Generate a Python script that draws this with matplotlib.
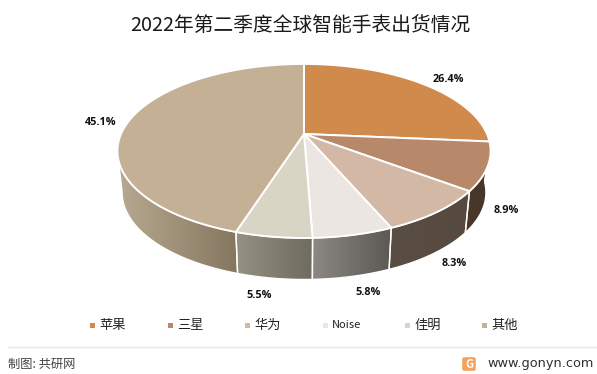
"""Perspective 3D pie of global smartwatch shipment share, Q2 2022."""

import matplotlib
matplotlib.use("Agg")
import matplotlib.pyplot as plt
import numpy as np
from matplotlib.colors import LinearSegmentedColormap
from matplotlib.patches import FancyBboxPatch, Polygon, Rectangle

plt.rcParams["font.family"] = ["Noto Sans CJK SC", "DejaVu Sans"]

TITLE = "2022年第二季度全球智能手表出货情况"
BRANDS = ["苹果", "三星", "华为", "Noise", "佳明", "其他"]
SHARES = [26.4, 8.9, 8.3, 5.8, 5.5, 45.1]

TOP_COLORS = ["#D08B4C", "#B8886A", "#D3B8A5", "#EBE6E2", "#D9D5C4", "#C4B094"]
WALL_COLORS = [
    ("#5A4A3A", "#4A3829"),
    ("#4A3829", "#46362A"),
    ("#5A4E44", "#564A40"),
    ("#8C8984", "#5C5955"),
    ("#959283", "#6E6B5F"),
    ("#B8A991", "#85765F"),
]
LABEL_POS = [(448, 79.5), (506, 210.5), (454, 263.5), (368, 292.5), (259, 295.5), (101, 122.5)]
LEGEND_X = [92, 170, 247, 325, 407, 484]

CX, CY = 304, 134
R, S, K = 183, 83.7, 0.195
DEPTH, SHRINK_X, SHRINK_Y = 41.5, 0.975, 1.0


def project(deg):
    """Map clockwise degrees from 12 o'clock onto the tilted disc, in pixels."""
    a = np.radians(deg)
    x, y = np.sin(a), np.cos(a)
    w = 1 + K * y
    return R * x / w, -S * y / w


def wall(ax, a0, a1, colors):
    """Draw one side wall between two angles with a left-right gradient."""
    angles = np.linspace(a0, a1, 60)
    dx, dy = project(angles)
    top = np.column_stack([CX + dx, CY + dy])
    bottom = np.column_stack([CX + dx * SHRINK_X, CY + DEPTH + dy * SHRINK_Y])
    pts = np.vstack([top, bottom[::-1]])
    outline = Polygon(pts, closed=True, facecolor="none", edgecolor="white", linewidth=1.0, zorder=3)
    ax.add_patch(outline)
    cmap = LinearSegmentedColormap.from_list("wall", colors)
    xmin, xmax = pts[:, 0].min(), pts[:, 0].max()
    ymin, ymax = pts[:, 1].min(), pts[:, 1].max()
    img = ax.imshow(
        np.linspace(0, 1, 128).reshape(1, -1),
        cmap=cmap,
        extent=(xmin, xmax, ymax, ymin),
        aspect="auto",
        zorder=2,
        interpolation="bilinear",
    )
    clip = Polygon(pts, closed=True, transform=ax.transData)
    img.set_clip_path(clip)


def main():
    fig = plt.figure(figsize=(5.97, 3.74), dpi=100)
    ax = fig.add_axes([0, 0, 1, 1])

    edges = np.concatenate([[0], np.cumsum(SHARES)]) / sum(SHARES) * 360

    for i, color in enumerate(TOP_COLORS):
        a0, a1 = edges[i], edges[i + 1]
        low, high = max(a0, 95), min(a1, 259)
        if low < high:
            wall(ax, low, high, WALL_COLORS[i])

    for i, color in enumerate(TOP_COLORS):
        angles = np.linspace(edges[i], edges[i + 1], 120)
        dx, dy = project(angles)
        pts = np.vstack([[CX, CY], np.column_stack([CX + dx, CY + dy])])
        ax.add_patch(Polygon(pts, closed=True, facecolor=color, edgecolor="white", linewidth=1.4, zorder=4))

    for share, (x, y) in zip(SHARES, LABEL_POS):
        ax.text(x, y, f"{share}%", ha="center", va="center", fontsize=7.8, fontweight="bold",
                color="#111111", zorder=5, family=["Open Sans"])

    for brand, color, x in zip(BRANDS, TOP_COLORS, LEGEND_X):
        ax.add_patch(Rectangle((x - 2.5, 323), 5, 5, facecolor=color, edgecolor="none"))
        size = 8 if brand == "Noise" else 9.5
        ax.text(x + 7, 325.5, brand, ha="left", va="center", fontsize=size, color="#222222")

    ax.text(300, 26, TITLE, ha="center", va="center", fontsize=14.2, color="#1a1a1a")
    ax.plot([8, 597], [347, 347], color="#e6e6e6", linewidth=1)
    ax.text(8, 364, "制图: 共研网", ha="left", va="center", fontsize=8.8, color="#404040")

    ax.add_patch(FancyBboxPatch((463, 358), 12, 12, boxstyle="round,pad=0.8,rounding_size=2",
                                facecolor="#F3A35C", edgecolor="none"))
    ax.text(469, 364, "G", ha="center", va="center", fontsize=8, fontweight="bold", color="white")
    ax.text(487, 363, "www.gonyn.com", ha="left", va="center", fontsize=9.3, color="#303030",
            family=["DejaVu Sans"])

    ax.set_xlim(0, 597)
    ax.set_ylim(374, 0)
    ax.axis("off")
    fig.savefig("out.png", dpi=100, facecolor="white")
    plt.close(fig)


if __name__ == "__main__":
    main()
